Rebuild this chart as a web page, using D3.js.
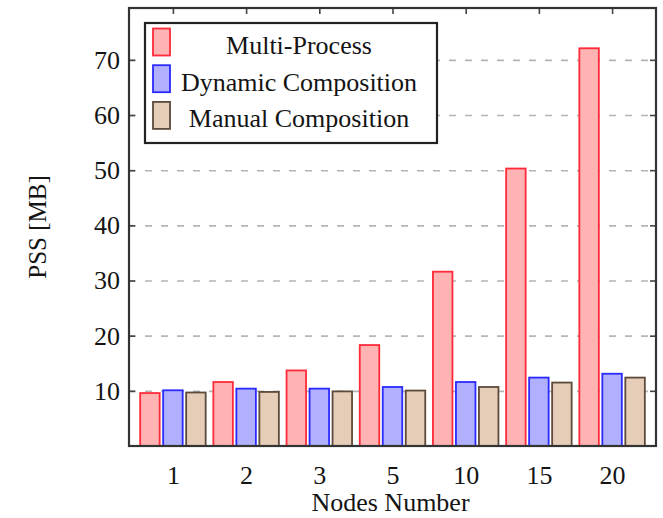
<!DOCTYPE html>
<html>
<head>
<meta charset="utf-8">
<script src="https://d3js.org/d3.v7.min.js"></script>
<style>
  body { margin: 0; background: #fff; }
  text { font-family: "Liberation Serif", "Times New Roman", serif; fill: #141414; }
</style>
</head>
<body>
<div id="chart"></div>
<script>
var categories = ["1", "2", "3", "5", "10", "15", "20"];
var seriesNames = ["Multi-Process", "Dynamic Composition", "Manual Composition"];
var multiProcess = [9.6, 11.6, 13.7, 18.3, 31.6, 50.3, 72.1];
var dynamicComposition = [10.1, 10.4, 10.4, 10.7, 11.6, 12.4, 13.1];
var manualComposition = [9.7, 9.8, 9.9, 10.05, 10.7, 11.5, 12.4];
var yTicks = [10, 20, 30, 40, 50, 60, 70];

var fills = ["#ffb3b3", "#b0b0ff", "#e6cdb8"];
var strokes = ["#ff2a3a", "#2a2aff", "#5c4a3a"];

// plot area in page pixels
var margin = {top: 8, right: 7, bottom: 72, left: 129},
    width = 663 - margin.left - margin.right,
    height = 518 - margin.top - margin.bottom;

var svg = d3.select("#chart")
  .append("svg")
    .attr("width", 663)
    .attr("height", 518)
  .append("g")
    .attr("transform", "translate(" + margin.left + "," + margin.top + ")");

var data = categories.map(function(c, i) {
  return { cat: c, values: [multiProcess[i], dynamicComposition[i], manualComposition[i]] };
});

var x = d3.scalePoint()
    .domain(categories)
    .range([0, width])
    .padding(0.6);

var xSub = d3.scaleBand()
    .domain(d3.range(seriesNames.length))
    .range([-32.75, 32.75])
    .paddingInner(0.152);

var y = d3.scaleLinear()
    .domain([0, 79.4])
    .range([height, 0]);

// dashed grid
svg.append("g")
    .attr("class", "grid")
    .call(d3.axisLeft(y).tickValues(yTicks).tickSize(-width).tickFormat(""))
    .call(function(g) { g.select(".domain").remove(); })
    .selectAll("line")
    .attr("stroke", "#b5b5b5")
    .attr("stroke-width", 1.6)
    .attr("stroke-dasharray", "7,9");

// bars
svg.append("g")
  .selectAll("g")
  .data(data)
  .enter()
  .append("g")
    .attr("transform", function(d) { return "translate(" + x(d.cat) + ",0)"; })
  .selectAll("rect")
  .data(function(d) { return d.values.map(function(v, i) { return {key: i, value: v}; }); })
  .enter().append("rect")
    .attr("x", function(d) { return xSub(d.key); })
    .attr("y", function(d) { return y(d.value); })
    .attr("width", xSub.bandwidth())
    .attr("height", function(d) { return height - y(d.value); })
    .attr("fill", function(d) { return fills[d.key]; })
    .attr("stroke", function(d) { return strokes[d.key]; })
    .attr("stroke-width", 1.8);

// left axis with labels
var yAxis = svg.append("g")
    .call(d3.axisLeft(y).tickValues(yTicks).tickSize(-6).tickPadding(9));
yAxis.select(".domain").remove();
yAxis.selectAll("line").attr("stroke", "#444").attr("stroke-width", 1.6);
yAxis.selectAll("text")
    .style("font-size", "26px")
    .style("font-family", "Liberation Serif")
    .attr("fill", "#141414");

// right ticks
var yRight = svg.append("g")
    .attr("transform", "translate(" + width + ",0)")
    .call(d3.axisRight(y).tickValues(yTicks).tickSize(-6).tickFormat(""));
yRight.select(".domain").remove();
yRight.selectAll("line").attr("stroke", "#444").attr("stroke-width", 1.6);

// top ticks
var xTop = svg.append("g")
    .call(d3.axisTop(x).tickSize(-6).tickFormat(""));
xTop.select(".domain").remove();
xTop.selectAll("line").attr("stroke", "#444").attr("stroke-width", 1.6);

// bottom labels
var xAxis = svg.append("g")
    .attr("transform", "translate(0," + height + ")")
    .call(d3.axisBottom(x).tickSize(0).tickPadding(20));
xAxis.select(".domain").remove();
xAxis.selectAll("text")
    .style("font-size", "26px")
    .style("font-family", "Liberation Serif")
    .attr("fill", "#141414");

// frame
svg.append("rect")
    .attr("x", 0)
    .attr("y", 0)
    .attr("width", width)
    .attr("height", height)
    .attr("fill", "none")
    .attr("stroke", "#333")
    .attr("stroke-width", 2.2);

// axis titles
svg.append("text")
    .attr("x", width / 2 - 2)
    .attr("y", height + 65)
    .attr("text-anchor", "middle")
    .style("font-size", "26px")
    .text("Nodes Number");

svg.append("text")
    .attr("transform", "translate(" + (46 - margin.left) + "," + (height / 2) + ")rotate(-90)")
    .attr("text-anchor", "middle")
    .style("font-size", "25px")
    .text("PSS [MB]");

// legend
var legend = svg.append("g")
    .attr("transform", "translate(" + (145 - margin.left) + "," + (23 - margin.top) + ")");

legend.append("rect")
    .attr("width", 292)
    .attr("height", 120)
    .attr("fill", "#fff")
    .attr("stroke", "#222")
    .attr("stroke-width", 2.2);

var items = legend.selectAll(".legend")
    .data(seriesNames)
    .enter().append("g")
    .attr("class", "legend")
    .attr("transform", function(d, i) { return "translate(0," + i * 36.7 + ")"; });

items.append("rect")
    .attr("x", 8)
    .attr("y", 5.5)
    .attr("width", 17)
    .attr("height", 27)
    .attr("fill", function(d, i) { return fills[i]; })
    .attr("stroke", function(d, i) { return strokes[i]; })
    .attr("stroke-width", 1.8);

items.append("text")
    .attr("x", 154)
    .attr("y", 31)
    .attr("text-anchor", "middle")
    .style("font-size", "26px")
    .text(function(d) { return d; });
</script>
</body>
</html>
